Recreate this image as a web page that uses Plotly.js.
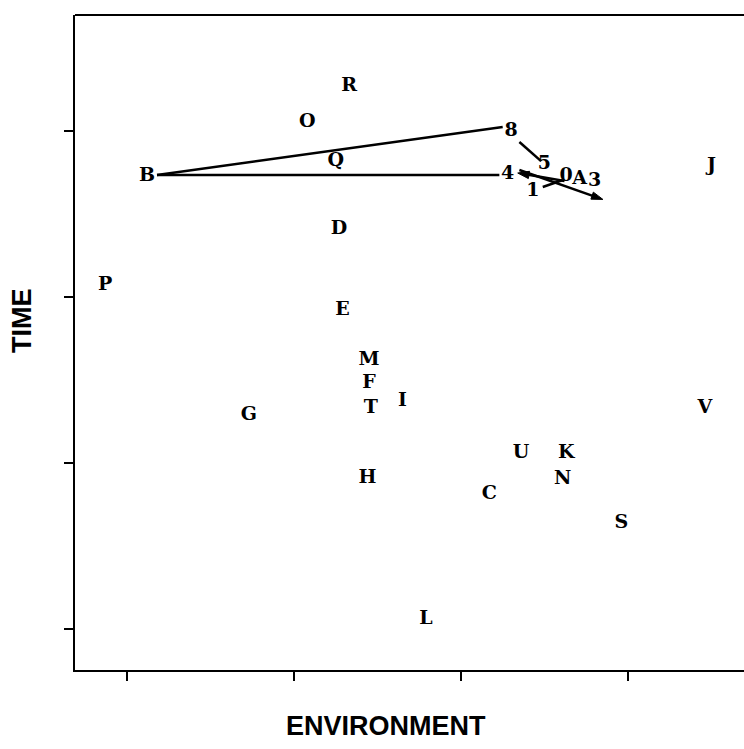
<!DOCTYPE html>
<html>
<head>
<meta charset="utf-8">
<script src="https://cdn.plot.ly/plotly-3.0.1.min.js"></script>
<style>html,body{margin:0;padding:0;background:#fff;}#chart{width:744px;height:749px;}</style>
</head>
<body>
<div id="chart"></div>
<script>
// Letter points (environment, time)
var pointLabels = ["R","O","Q","B","D","P","E","M","F","T","I","G","H","U","K","N","C","S","L","V","J"];
var pointX = [1.33,1.08,1.25,0.12,1.27,-0.13,1.29,1.45,1.45,1.46,1.65,0.73,1.44,2.36,2.63,2.61,2.17,2.96,1.79,3.46,3.50];
var pointY = [3.27,3.05,2.82,2.73,2.41,2.07,1.92,1.62,1.48,1.33,1.37,1.29,0.91,1.06,1.06,0.90,0.81,0.64,0.06,1.33,2.79];

// Trajectory labels
var pathLabels = ["8","5","4","1","0","A","3"];
var pathX = [2.30,2.50,2.28,2.43,2.63,2.71,2.80];
var pathY = [3.00,2.80,2.74,2.64,2.73,2.71,2.70];

// Trajectory segments (start/end)
var segBto8X = [0.18,2.25], segBto8Y = [2.735,3.024];
var segBto4X = [0.18,2.23], segBto4Y = [2.735,2.735];
var seg8to5X = [2.35,2.48], seg8to5Y = [2.934,2.819];
var seg1X = [2.49,2.61], seg1Y = [2.663,2.705];
var arrowLeftX = [2.62,2.34], arrowLeftY = [2.699,2.747];
var arrowEndX = [2.35,2.85], arrowEndY = [2.765,2.588];

var lineStyle = {color:'#000', width:2.5};
function seg(x,y){return {x:x,y:y,mode:'lines',type:'scatter',line:lineStyle,hoverinfo:'skip',showlegend:false};}
function arrowSeg(x,y){return {x:x,y:y,mode:'lines+markers',type:'scatter',line:lineStyle,
  marker:{symbol:['circle','arrow'],size:[0,12],color:'#000',opacity:1,line:{color:'#000',width:1},angleref:'previous'},
  hoverinfo:'skip',showlegend:false};}

var txtFont = {family:'DejaVu Serif, serif', size:19, color:'#000', weight:'bold'};
var traces = [
  seg(segBto8X,segBto8Y), seg(segBto4X,segBto4Y), seg(seg8to5X,seg8to5Y), seg(seg1X,seg1Y),
  arrowSeg(arrowLeftX,arrowLeftY), arrowSeg(arrowEndX,arrowEndY),
  {x:pointX,y:pointY,text:pointLabels,mode:'text',type:'scatter',textfont:txtFont,textposition:'middle center',showlegend:false},
  {x:pathX,y:pathY,text:pathLabels,mode:'text',type:'scatter',textfont:txtFont,textposition:'middle center',showlegend:false}
];

var axisCommon = {showline:true,linecolor:'#000',linewidth:2,ticks:'outside',ticklen:9,tickwidth:2,tickcolor:'#000',
  showticklabels:false,showgrid:false,zeroline:false,dtick:1,tick0:0};
var layout = {
  width:744,height:749,
  margin:{l:75,r:0,t:15,b:79},
  paper_bgcolor:'#fff',plot_bgcolor:'#fff',
  xaxis:Object.assign({},axisCommon,{range:[-0.311,3.695],mirror:false}),
  yaxis:Object.assign({},axisCommon,{range:[-0.247,3.699]}),
  shapes:[{type:'line',xref:'paper',yref:'paper',x0:0,x1:1,y0:1,y1:1,line:{color:'#000',width:2}}],
  annotations:[
    {text:'ENVIRONMENT',xref:'paper',yref:'paper',x:(386-75)/669,y:(670-726)/655,xanchor:'center',yanchor:'middle',showarrow:false,
     font:{family:'Liberation Sans, Arial, sans-serif',size:27,color:'#000',weight:'bold'}},
    {text:'TIME',xref:'paper',yref:'paper',x:(22-75)/669,y:(670-321)/655,xanchor:'center',yanchor:'middle',showarrow:false,textangle:-90,
     font:{family:'Liberation Sans, Arial, sans-serif',size:27,color:'#000',weight:'bold'}}
  ]
};
Plotly.newPlot('chart',traces,layout,{displayModeBar:false,staticPlot:true});
</script>
</body>
</html>
